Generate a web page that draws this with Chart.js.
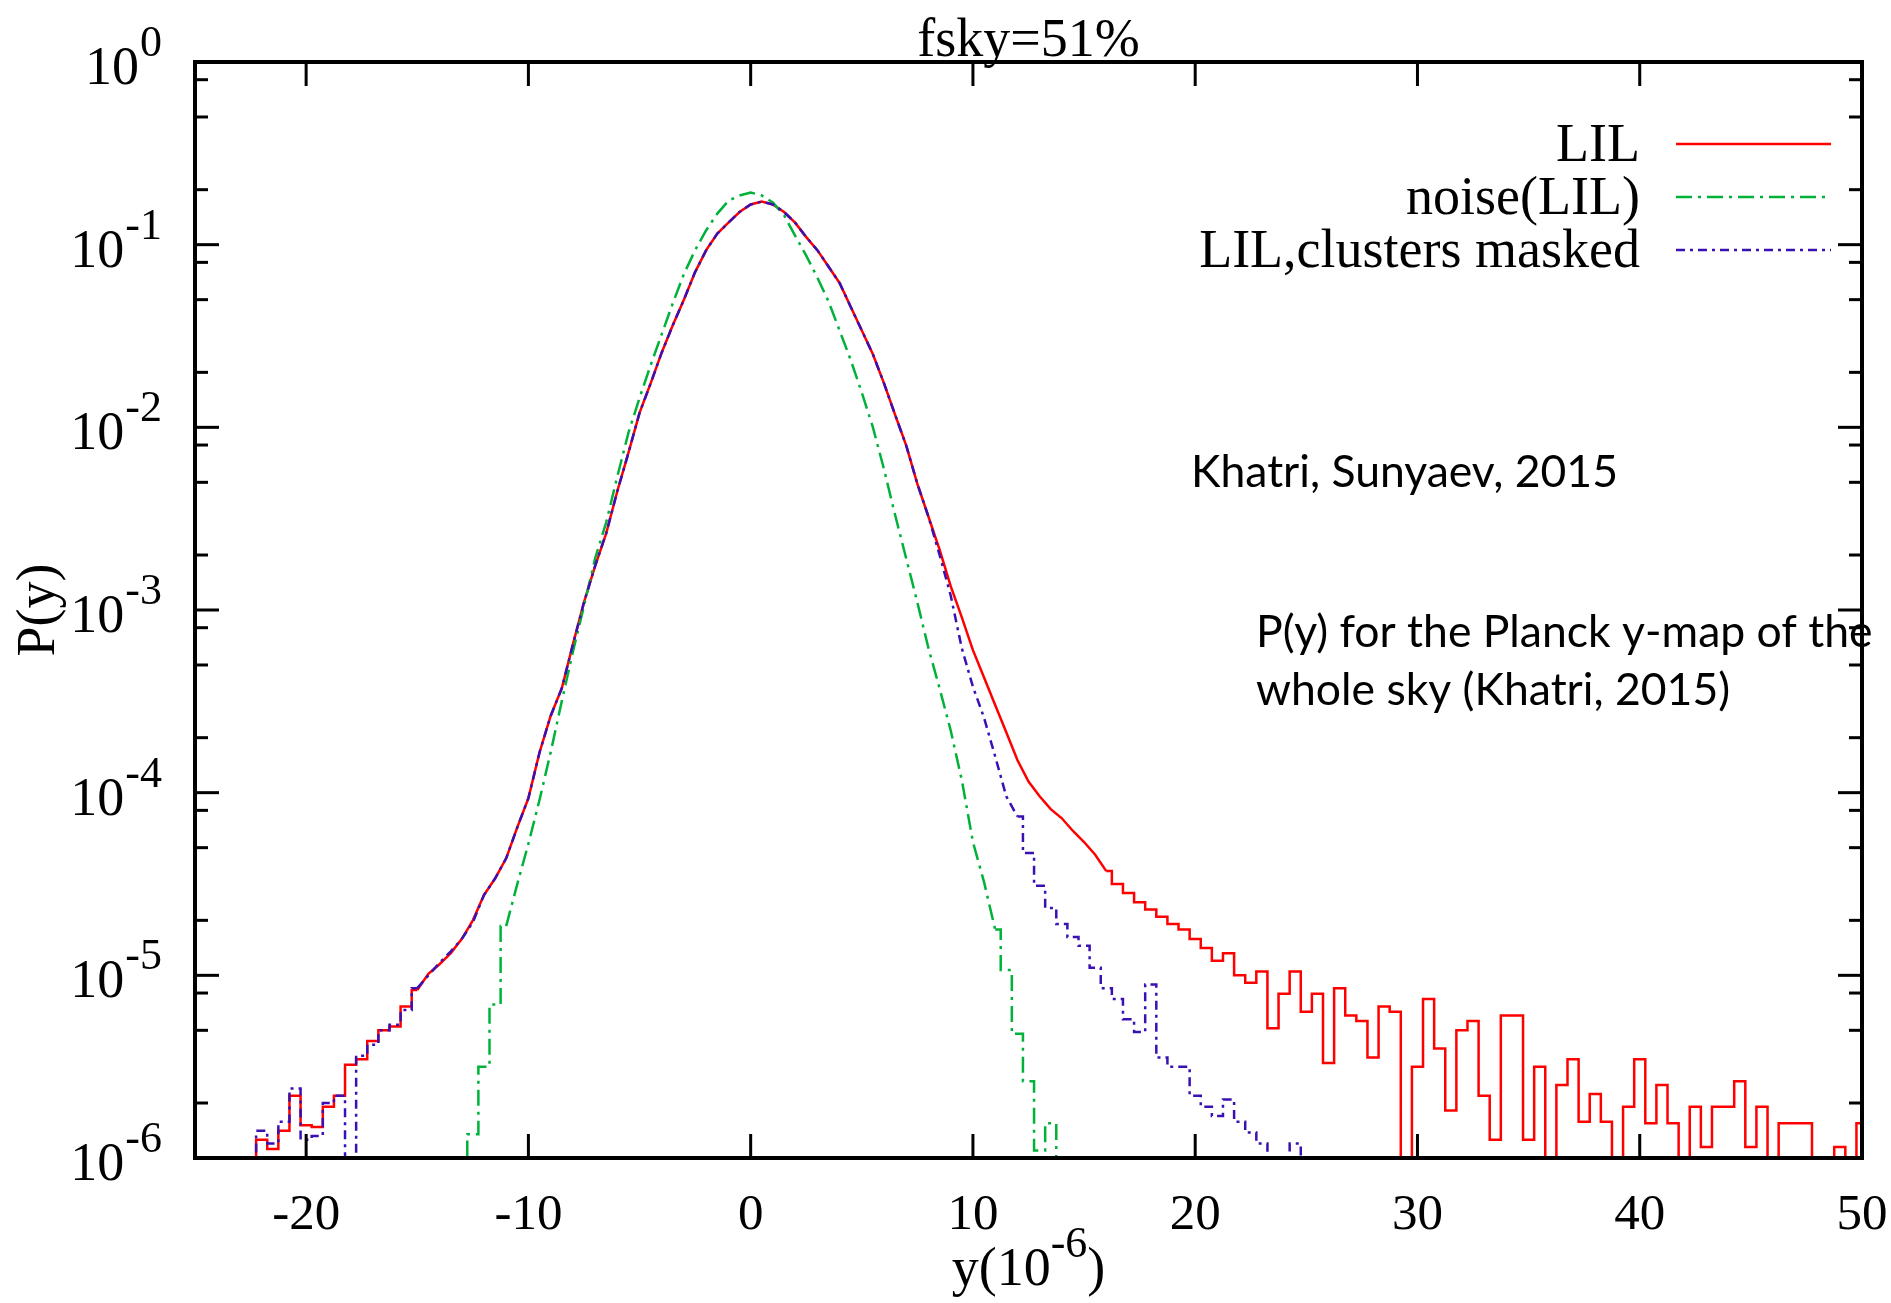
<!DOCTYPE html>
<html>
<head>
<meta charset="utf-8">
<title>P(y) fsky=51%</title>
<script src="https://cdn.jsdelivr.net/npm/chart.js@4.4.1/dist/chart.umd.min.js"></script>
<style>
  html, body { margin: 0; padding: 0; background: #fff; }
  #wrap { position: relative; width: 1891px; height: 1303px; }
</style>
</head>
<body>
<div id="wrap"><canvas id="pyChart"></canvas></div>
<script>
// -------------------- Data --------------------
const xTicks = [-20, -10, 0, 10, 20, 30, 40, 50];
const xTickLabels = ['-20', '-10', '0', '10', '20', '30', '40', '50'];
const yDecades = [0, -1, -2, -3, -4, -5, -6];
const yTickExponents = ['0', '-1', '-2', '-3', '-4', '-5', '-6'];
const yMinorFactors = [2, 5, 8];

// LIL
const lilX = [
  -22.5, -22, -21.5, -21, -20.5, -20, -19.5, -19, -18.5, -18, -17.5, -17, -16.5, -16, -15.5, -15,
  -14.5, -14, -13.5, -13, -12.5, -12, -11.5, -11, -10.5, -10, -9.5, -9, -8.5, -8, -7.5, -7,
  -6.5, -6, -5.5, -5, -4.5, -4, -3.5, -3, -2.5, -2, -1.5, -1, -0.5, 0, 0.5, 1,
  1.5, 2, 2.5, 3, 3.5, 4, 4.5, 5, 5.5, 6, 6.5, 7, 7.5, 8, 8.5, 9,
  9.5, 10, 10.5, 11, 11.5, 12, 12.5, 13, 13.5, 14, 14.5, 15, 15.5, 16, 16.5, 17,
  17.5, 18, 18.5, 19, 19.5, 20, 20.5, 21, 21.5, 22, 22.5, 23, 23.5, 24, 24.5, 25,
  25.5, 26, 26.5, 27, 27.5, 28, 28.5, 29, 29.5, 30, 30.5, 31, 31.5, 32, 32.5, 33,
  33.5, 34, 34.5, 35, 35.5, 36, 36.5, 37, 37.5, 38, 38.5, 39, 39.5, 40, 40.5, 41,
  41.5, 42, 42.5, 43, 43.5, 44, 44.5, 45, 45.5, 46, 46.5, 47, 47.5, 48, 48.5, 49,
  49.5, 50
];
const lilP = [
  5e-7, 1.26e-6, 1.12e-6, 1.41e-6, 2.19e-6, 1.51e-6, 1.48e-6, 1.91e-6, 2.19e-6, 3.24e-6, 3.47e-6, 4.37e-6, 5.01e-6, 5.25e-6, 6.76e-6, 8.32e-6,
  1.02e-5, 1.15e-5, 1.32e-5, 1.58e-5, 2.00e-5, 2.75e-5, 3.39e-5, 4.37e-5, 6.46e-5, 9.33e-5, 1.66e-4, 2.63e-4, 3.72e-4, 6.46e-4, 1.10e-3, 1.74e-3,
  2.63e-3, 4.47e-3, 7.24e-3, 1.20e-2, 1.74e-2, 2.57e-2, 3.63e-2, 5.01e-2, 7.08e-2, 9.33e-2, 0.115, 0.132, 0.151, 0.166, 0.172, 0.166,
  0.151, 0.132, 0.110, 9.33e-2, 7.59e-2, 6.17e-2, 4.57e-2, 3.39e-2, 2.51e-2, 1.74e-2, 1.17e-2, 7.94e-3, 4.90e-3, 3.24e-3, 2.14e-3, 1.35e-3,
  9.12e-4, 6.03e-4, 4.27e-4, 3.02e-4, 2.14e-4, 1.51e-4, 1.15e-4, 9.55e-5, 8.13e-5, 7.24e-5, 6.17e-5, 5.37e-5, 4.57e-5, 3.72e-5, 3.16e-5, 2.82e-5,
  2.51e-5, 2.29e-5, 2.09e-5, 1.91e-5, 1.78e-5, 1.58e-5, 1.41e-5, 1.20e-5, 1.32e-5, 1.00e-5, 9.12e-6, 1.05e-5, 5.13e-6, 7.94e-6, 1.05e-5, 6.31e-6,
  7.94e-6, 3.31e-6, 8.51e-6, 6.03e-6, 5.62e-6, 3.55e-6, 6.76e-6, 6.31e-6, 5e-7, 3.16e-6, 7.41e-6, 3.98e-6, 1.82e-6, 5.01e-6, 5.62e-6, 2.19e-6,
  1.26e-6, 6.03e-6, 6.03e-6, 1.26e-6, 3.16e-6, 5e-7, 2.51e-6, 3.47e-6, 1.58e-6, 2.24e-6, 1.58e-6, 5e-7, 1.91e-6, 3.47e-6, 1.55e-6, 2.51e-6,
  1.55e-6, 5e-7, 1.91e-6, 1.15e-6, 1.91e-6, 1.91e-6, 2.63e-6, 1.15e-6, 1.91e-6, 5e-7, 1.55e-6, 1.55e-6, 1.55e-6, 5e-7, 5e-7, 1.15e-6,
  5e-7, 1.55e-6
];

// noise(LIL)
const noiseX = [
  -13, -12.5, -12, -11.5, -11, -10.5, -10, -9.5, -9, -8.5, -8, -7.5, -7, -6.5, -6, -5.5,
  -5, -4.5, -4, -3.5, -3, -2.5, -2, -1.5, -1, -0.5, 0, 0.5, 1, 1.5, 2, 2.5,
  3, 3.5, 4, 4.5, 5, 5.5, 6, 6.5, 7, 7.5, 8, 8.5, 9, 9.5, 10, 10.5,
  11, 11.5, 12, 12.5, 13, 13.5, 14
];
const noiseP = [
  5e-7, 1.35e-6, 3.16e-6, 6.92e-6, 1.86e-5, 3.16e-5, 5.25e-5, 9.12e-5, 1.66e-4, 3.16e-4, 5.89e-4, 1.05e-3, 1.91e-3, 3.02e-3, 5.37e-3, 9.33e-3,
  1.45e-2, 2.19e-2, 3.24e-2, 4.79e-2, 6.92e-2, 9.33e-2, 0.120, 0.148, 0.174, 0.186, 0.193, 0.186, 0.170, 0.145, 0.112, 8.71e-2,
  6.61e-2, 4.90e-2, 3.39e-2, 2.34e-2, 1.55e-2, 1.00e-2, 5.89e-3, 3.31e-3, 1.91e-3, 1.10e-3, 6.17e-4, 3.72e-4, 2.19e-4, 1.17e-4, 5.37e-5, 3.24e-5,
  1.78e-5, 1.07e-5, 4.79e-6, 2.63e-6, 1.10e-6, 1.55e-6, 5e-7
];

// LIL, clusters masked
const maskedX = [
  -22.5, -22, -21.5, -21, -20.5, -20, -19.5, -19, -18.5, -18, -17.5, -17, -16.5, -16, -15.5, -15,
  -14.5, -14, -13.5, -13, -12.5, -12, -11.5, -11, -10.5, -10, -9.5, -9, -8.5, -8, -7.5, -7,
  -6.5, -6, -5.5, -5, -4.5, -4, -3.5, -3, -2.5, -2, -1.5, -1, -0.5, 0, 0.5, 1,
  1.5, 2, 2.5, 3, 3.5, 4, 4.5, 5, 5.5, 6, 6.5, 7, 7.5, 8, 8.5, 9,
  9.5, 10, 10.5, 11, 11.5, 12, 12.5, 13, 13.5, 14, 14.5, 15, 15.5, 16, 16.5, 17,
  17.5, 18, 18.5, 19, 19.5, 20, 20.5, 21, 21.5, 22, 22.5, 23, 23.5, 24, 24.5, 25
];
const maskedP = [
  5e-7, 1.41e-6, 1.20e-6, 1.58e-6, 2.40e-6, 1.26e-6, 1.32e-6, 2.00e-6, 2.19e-6, 5e-7, 3.63e-6, 4.17e-6, 5.01e-6, 5.37e-6, 6.46e-6, 8.51e-6,
  1.00e-5, 1.17e-5, 1.35e-5, 1.58e-5, 1.95e-5, 2.75e-5, 3.39e-5, 4.37e-5, 6.46e-5, 9.33e-5, 1.66e-4, 2.63e-4, 3.72e-4, 6.46e-4, 1.10e-3, 1.74e-3,
  2.63e-3, 4.47e-3, 7.24e-3, 1.20e-2, 1.74e-2, 2.57e-2, 3.63e-2, 5.01e-2, 7.08e-2, 9.33e-2, 0.115, 0.132, 0.151, 0.166, 0.172, 0.166,
  0.151, 0.132, 0.110, 9.33e-2, 7.59e-2, 6.17e-2, 4.57e-2, 3.39e-2, 2.51e-2, 1.74e-2, 1.17e-2, 7.94e-3, 4.90e-3, 3.24e-3, 2.00e-3, 1.20e-3,
  6.17e-4, 3.80e-4, 2.57e-4, 1.58e-4, 9.55e-5, 7.41e-5, 4.68e-5, 3.09e-5, 2.34e-5, 1.91e-5, 1.62e-5, 1.45e-5, 1.10e-5, 8.51e-6, 7.41e-6, 5.75e-6,
  4.90e-6, 8.91e-6, 3.55e-6, 3.16e-6, 3.16e-6, 2.19e-6, 1.91e-6, 1.70e-6, 2.09e-6, 1.58e-6, 1.38e-6, 1.20e-6, 5e-7, 5e-7, 1.20e-6, 5e-7
];

// smooth (well-sampled) part of each histogram; outside it the bins are drawn as steps
const lilCore = [-15, 16];
const noiseCore = [-11, 11];
const maskedCore = [-15, 12];

// -------------------- Styling --------------------
const SERIF = '"Liberation Serif", "Times New Roman", serif';
const SANS = 'Lato, "Open Sans", sans-serif';
const MAJOR_TICK = 24;
const MINOR_TICK = 13;

const series = [
  { label: 'LIL', color: '#ff0000', dash: [], order: 3, xs: lilX, ps: lilP, core: lilCore },
  { label: 'noise(LIL)', color: '#00b23a', dash: [16, 6, 3, 6], order: 2, xs: noiseX, ps: noiseP, core: noiseCore },
  { label: 'LIL,clusters masked', color: '#3a10b4', dash: [9, 5, 3, 5], order: 1, xs: maskedX, ps: maskedP, core: maskedCore }
];

function buildDatasets(s) {
  const pts = s.xs.map((x, i) => ({ x, y: s.ps[i] }));
  const [lo, hi] = s.core;
  const parts = [
    { data: pts.filter(p => p.x <= lo), stepped: 'middle' },
    { data: pts.filter(p => p.x >= lo && p.x <= hi), stepped: false },
    { data: pts.filter(p => p.x >= hi), stepped: 'middle' }
  ];
  return parts.map(part => ({
    label: s.label,
    data: part.data,
    stepped: part.stepped,
    borderColor: s.color,
    borderWidth: 2.5,
    borderDash: s.dash,
    pointRadius: 0,
    fill: false,
    order: s.order
  }));
}

// gnuplot-style frame, mirrored inward ticks and all labels
const gnuplotFrame = {
  id: 'gnuplotFrame',
  afterDraw(chart) {
    const { ctx, chartArea: a, scales } = chart;
    const xs = scales.x;
    const ys = scales.y;
    const seg = (x1, y1, x2, y2) => {
      ctx.beginPath();
      ctx.moveTo(x1, y1);
      ctx.lineTo(x2, y2);
      ctx.stroke();
    };

    ctx.save();
    ctx.strokeStyle = '#000';
    ctx.fillStyle = '#000';
    ctx.setLineDash([]);

    // ticks
    ctx.lineWidth = 3;
    xTicks.forEach(v => {
      const px = xs.getPixelForValue(v);
      seg(px, a.bottom, px, a.bottom - MAJOR_TICK);
      seg(px, a.top, px, a.top + MAJOR_TICK);
    });
    yDecades.forEach(d => {
      const py = ys.getPixelForValue(Math.pow(10, d));
      seg(a.left, py, a.left + MAJOR_TICK, py);
      seg(a.right, py, a.right - MAJOR_TICK, py);
      if (d < 0) {
        yMinorFactors.forEach(f => {
          const pm = ys.getPixelForValue(f * Math.pow(10, d));
          seg(a.left, pm, a.left + MINOR_TICK, pm);
          seg(a.right, pm, a.right - MINOR_TICK, pm);
        });
      }
    });

    // border
    ctx.lineWidth = 4;
    ctx.strokeRect(a.left, a.top, a.right - a.left, a.bottom - a.top);

    // y tick labels: 10^n
    ctx.textBaseline = 'alphabetic';
    ctx.textAlign = 'left';
    yDecades.forEach((d, i) => {
      const py = ys.getPixelForValue(Math.pow(10, d));
      const exp = yTickExponents[i];
      ctx.font = `54px ${SERIF}`;
      const wb = ctx.measureText('10').width;
      ctx.font = `44px ${SERIF}`;
      const we = ctx.measureText(exp).width;
      const x0 = a.left - 34 - wb - we;
      ctx.font = `54px ${SERIF}`;
      ctx.fillText('10', x0, py + 22);
      ctx.font = `44px ${SERIF}`;
      ctx.fillText(exp, x0 + wb + 1, py - 6);
    });

    // x tick labels
    ctx.font = `51px ${SERIF}`;
    ctx.textAlign = 'center';
    xTicks.forEach((v, i) => {
      ctx.fillText(xTickLabels[i], xs.getPixelForValue(v), a.bottom + 71);
    });

    // title
    const midX = (a.left + a.right) / 2;
    ctx.font = `54px ${SERIF}`;
    ctx.fillText('fsky=51%', midX, 56);

    // x axis title: y(10^-6)
    ctx.textAlign = 'left';
    ctx.font = `54px ${SERIF}`;
    const w1 = ctx.measureText('y(10').width;
    const w3 = ctx.measureText(')').width;
    ctx.font = `44px ${SERIF}`;
    const w2 = ctx.measureText('-6').width;
    const tx = midX - (w1 + w2 + w3) / 2;
    const tb = a.bottom + 127;
    ctx.font = `54px ${SERIF}`;
    ctx.fillText('y(10', tx, tb);
    ctx.font = `44px ${SERIF}`;
    ctx.fillText('-6', tx + w1, tb - 28);
    ctx.font = `54px ${SERIF}`;
    ctx.fillText(')', tx + w1 + w2, tb);

    // y axis title
    ctx.save();
    ctx.translate(40, (a.top + a.bottom) / 2);
    ctx.rotate(-Math.PI / 2);
    ctx.textAlign = 'center';
    ctx.textBaseline = 'middle';
    ctx.font = `54px ${SERIF}`;
    ctx.fillText('P(y)', 0, 0);
    ctx.restore();

    // legend (gnuplot style: label right-aligned, sample to the right)
    series.forEach((s, i) => {
      const base = 161 + i * 53;
      ctx.font = `54px ${SERIF}`;
      ctx.textAlign = 'right';
      ctx.fillStyle = '#000';
      ctx.fillText(s.label, 1640, base);
      ctx.strokeStyle = s.color;
      ctx.lineWidth = 2.5;
      ctx.setLineDash(s.dash);
      seg(1676, base - 17, 1831, base - 17);
      ctx.setLineDash([]);
    });

    // annotations
    ctx.fillStyle = '#000';
    ctx.textAlign = 'left';
    ctx.font = `44.5px ${SANS}`;
    ctx.fillText('Khatri, Sunyaev, 2015', 1191, 487);
    ctx.fillText('P(y) for the Planck y-map of the', 1256, 647);
    ctx.fillText('whole sky (Khatri, 2015)', 1256, 705);

    ctx.restore();
  }
};

// -------------------- Chart --------------------
const ctx = document.getElementById('pyChart').getContext('2d');
new Chart(ctx, {
  type: 'line',
  data: { datasets: series.flatMap(buildDatasets) },
  options: {
    responsive: true,
    maintainAspectRatio: false,
    animation: false,
    layout: { padding: { left: 195, right: 29, top: 62, bottom: 145 } },
    plugins: {
      legend: { display: false },
      tooltip: { enabled: false },
      title: { display: false }
    },
    scales: {
      x: { type: 'linear', min: -25, max: 50, display: false },
      y: { type: 'logarithmic', min: 1e-6, max: 1, display: false }
    }
  },
  plugins: [gnuplotFrame]
});
</script>
</body>
</html>
